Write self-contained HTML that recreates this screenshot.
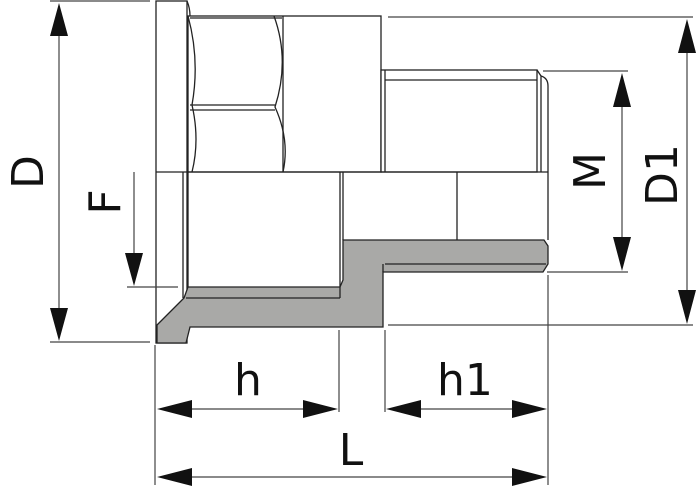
<!DOCTYPE html>
<html><head><meta charset="utf-8"><style>
html,body{margin:0;padding:0;background:#fff;}
svg{display:block;}
text{font-family:"DejaVu Sans","Liberation Sans",sans-serif;fill:#111;}
</style></head><body>
<svg width="700" height="488" viewBox="0 0 700 488" xmlns="http://www.w3.org/2000/svg">
<g fill="none" stroke="#222" stroke-width="1.3">
<rect x="156" y="1" width="31" height="342" fill="#fff"/>
<path d="M187 1 Q190 8 190 16"/>
<rect x="188" y="16" width="193" height="156" fill="#fff"/>
<line x1="190" y1="18" x2="282" y2="18"/>
<line x1="190" y1="105" x2="275" y2="105"/>
<line x1="190" y1="110" x2="275" y2="110"/>
<path d="M188 16 Q200 60 192 105 Q200 140 192 172"/>
<path d="M274 16 Q290 60 275 107 Q290 140 283 172"/>
<line x1="283" y1="16" x2="283" y2="172"/>
<rect x="381" y="70" width="156" height="102" fill="#fff"/>
<line x1="385" y1="80" x2="537" y2="80"/>
<line x1="385" y1="70" x2="385" y2="172"/>
<path d="M537 70 L541 76 L541 172"/>
<path d="M541 76 Q548 78 548 86 L548 172"/>
<line x1="156" y1="172" x2="548" y2="172"/>
<line x1="548" y1="172" x2="548" y2="240"/>
<line x1="457" y1="172" x2="457" y2="240"/>
<line x1="343" y1="172" x2="343" y2="240"/>
<line x1="183" y1="172" x2="183" y2="298"/>
<line x1="188" y1="172" x2="188" y2="287"/>
<line x1="340" y1="172" x2="340" y2="287"/>
</g>
<path d="M157 325 L184 298 L188 287 L340 287 L343 280 L343 240 L544 240 L548 246 L548 264 L543 272 L383 272 L383 327 L190 327 L186 343 L157 343 Z" fill="#a9a9a7" stroke="#222" stroke-width="1.3"/>
<g fill="none" stroke="#222" stroke-width="1.3">
<line x1="186" y1="298" x2="340" y2="298"/>
<line x1="340" y1="287" x2="340" y2="298"/>
<line x1="385" y1="264" x2="546" y2="264"/>
<line x1="383" y1="264" x2="383" y2="272"/>
</g>
<g stroke="#444" stroke-width="1.2" fill="none">
<line x1="50" y1="1" x2="150" y2="1"/>
<line x1="50" y1="342" x2="150" y2="342"/>
<line x1="59" y1="20" x2="59" y2="325"/>
<line x1="127" y1="287" x2="178" y2="287"/>
<line x1="134" y1="172" x2="134" y2="265"/>
<line x1="543" y1="71" x2="628" y2="71"/>
<line x1="547" y1="272" x2="628" y2="272"/>
<line x1="622" y1="90" x2="622" y2="255"/>
<line x1="388" y1="17" x2="693" y2="17"/>
<line x1="388" y1="325" x2="693" y2="325"/>
<line x1="687" y1="35" x2="687" y2="308"/>
<line x1="155" y1="345" x2="155" y2="485"/>
<line x1="339" y1="330" x2="339" y2="412"/>
<line x1="385" y1="330" x2="385" y2="412"/>
<line x1="548" y1="275" x2="548" y2="485"/>
<line x1="170" y1="409" x2="325" y2="409"/>
<line x1="400" y1="409" x2="535" y2="409"/>
<line x1="170" y1="477" x2="535" y2="477"/>
</g>
<g fill="#111">
<polygon points="59,3 50,36 68,36"/>
<polygon points="59,341 50,308 68,308"/>
<polygon points="134,286 125,253 143,253"/>
<polygon points="622,73 613,107 631,107"/>
<polygon points="622,271 613,237 631,237"/>
<polygon points="687,19 678,53 696,53"/>
<polygon points="687,324 678,290 696,290"/>
<polygon points="157,409 192,400 192,418"/>
<polygon points="338,409 303,400 303,418"/>
<polygon points="386,409 421,400 421,418"/>
<polygon points="547,409 512,400 512,418"/>
<polygon points="157,477 192,468 192,486"/>
<polygon points="547,477 512,468 512,486"/>
</g>
<g font-size="44">
<text x="248" y="395" text-anchor="middle">h</text>
<text x="465" y="395" text-anchor="middle">h1</text>
<text x="351" y="465" text-anchor="middle">L</text>
<text transform="translate(43,172) rotate(-90)" text-anchor="middle">D</text>
<text transform="translate(120,202) rotate(-90)" text-anchor="middle">F</text>
<text transform="translate(605,171) rotate(-90)" text-anchor="middle">M</text>
<text transform="translate(677,175) rotate(-90)" text-anchor="middle">D1</text>
</g>
</svg>
</body></html>
